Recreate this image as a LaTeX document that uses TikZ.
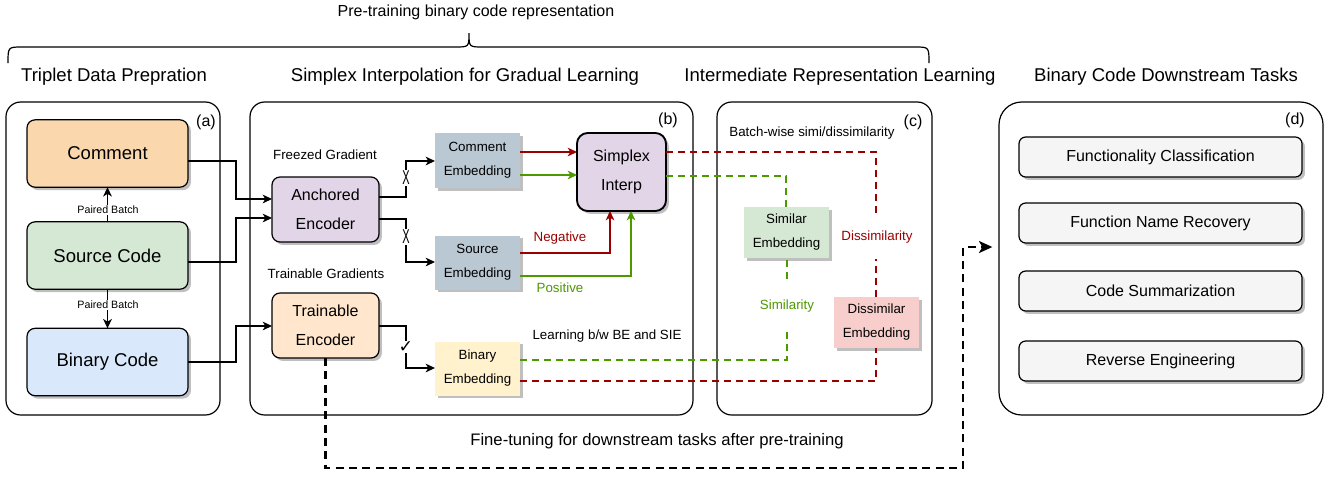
\documentclass[tikz,border=0pt]{standalone}
\usepackage{fontspec}
\setmainfont{Liberation Sans}
\newfontfamily\symfont{DejaVu Sans}
\usetikzlibrary{arrows.meta,shadows,fit,calc}
\definecolor{cOrange}{HTML}{FAD7AC}
\definecolor{cGreen}{HTML}{D5E8D4}
\definecolor{cBlue}{HTML}{DAE8FC}
\definecolor{cPurple}{HTML}{E1D5E7}
\definecolor{cPeach}{HTML}{FFE6CC}
\definecolor{cGray}{HTML}{BAC8D3}
\definecolor{cYellow}{HTML}{FFF2CC}
\definecolor{cPink}{HTML}{F8CECC}
\definecolor{cLight}{HTML}{F5F5F5}
\definecolor{cRed}{HTML}{990000}
\definecolor{cGrn}{HTML}{4D9900}
\begin{document}
\begin{tikzpicture}[x=0.75pt,y=-0.75pt,
  every node/.style={inner sep=0pt, outer sep=0pt},
  shad/.style={drop shadow={shadow xshift=2.2pt, shadow yshift=-2.2pt, fill=black, opacity=0.25}},
  panel/.style={draw, line width=0.9pt, rounded corners=11pt},
  dpanel/.style={draw, line width=0.9pt, rounded corners=17pt},
  bigbox/.style={draw, line width=0.9pt, rounded corners=6pt, shad, minimum width=120.75pt, minimum height=50.5pt, font=\fontsize{13.9}{16}\selectfont},
  encbox/.style={draw, line width=0.9pt, rounded corners=6pt, shad, align=center, minimum width=80.25pt, minimum height=48.75pt, font=\fontsize{12}{21.75}\selectfont},
  embbox/.style={shad, align=center, minimum width=63.75pt, minimum height=40.5pt, font=\fontsize{10}{18}\selectfont},
  taskbox/.style={draw, line width=0.9pt, rounded corners=5pt, fill=cLight, shad, minimum width=212.25pt, minimum height=30pt, font=\fontsize{12}{14}\selectfont},
  titletxt/.style={font=\fontsize{13.9}{16}\selectfont},
  smalltxt/.style={font=\fontsize{10}{12}\selectfont},
  tinytxt/.style={font=\fontsize{8}{10}\selectfont, fill=white, inner sep=1pt},
  plab/.style={font=\fontsize{12}{14}\selectfont},
  arr/.style={line width=0.9pt, -{Stealth[length=7pt,width=6.5pt,inset=2pt]}},
  rdash/.style={line width=1.3pt, cRed, dash pattern=on 5.5pt off 3.5pt},
  gdash/.style={line width=1.3pt, cGrn, dash pattern=on 5.5pt off 3.5pt},
  crossmark/.style={font=\fontsize{15}{16}\selectfont, fill=white, inner xsep=0.5pt, inner ysep=1pt},
  tickmark/.style={font=\symfont\fontsize{13}{14}\selectfont, fill=white, inner sep=0.5pt}
]
\useasboundingbox (0,0) rectangle (1337,476);
\fill[white] (0,0) rectangle (1337,476);

% top text and brace
\node[font=\fontsize{12}{14}\selectfont] (toptxt) at (476,12) {Pre-training binary code representation};
\draw[line width=0.9pt] (8,63) .. controls (8,47) .. (22,47) -- (455,47) .. controls (469,47) .. (469,33)
  .. controls (469,47) .. (483,47) -- (915,47) .. controls (929,47) .. (929,63);

% titles
\node[titletxt] (t1) at (114,77) {Triplet Data Prepration};
\node[titletxt] (t2) at (465,77) {Simplex Interpolation for Gradual Learning};
\node[titletxt] (t3) at (840,77) {Intermediate Representation Learning};
\node[titletxt] (t4) at (1166,77) {Binary Code Downstream Tasks};

% panels
\node[panel, fit={(6,102)(220,415)}] (pa) {};
\node[panel, fit={(250,102)(693,415)}] (pb) {};
\node[panel, fit={(717,102)(932,415)}] (pc) {};
\node[dpanel, fit={(999,102)(1323,415)}] (pd) {};
\node[plab] (la) at (206,122) {(a)};
\node[plab] (lb) at (668,120) {(b)};
\node[plab] (lc) at (913,122) {(c)};
\node[plab] (ld) at (1295,120) {(d)};

% panel a
\node[bigbox, fill=cOrange] (com) at (107.5,153.5) {Comment};
\node[bigbox, fill=cGreen] (src) at (107.5,255.5) {Source Code};
\node[bigbox, fill=cBlue] (bin) at (107.5,362) {Binary Code};
\draw[arr] (src.north) -- (com.south);
\draw[arr] (src.south) -- (bin.north);
\node[tinytxt] (pb1) at (108,210) {Paired Batch};
\node[tinytxt] (pb2) at (108,305) {Paired Batch};

% panel b
\node[smalltxt] (fg) at (325,155) {Freezed Gradient};
\node[smalltxt] (tg) at (326,274) {Trainable Gradients};
\node[encbox, fill=cPurple] (ae) at (325.5,209.5) {Anchored\\Encoder};
\node[encbox, fill=cPeach] (te) at (325.5,325.5) {Trainable\\Encoder};
\node[embbox, fill=cGray, minimum height=41.25pt] (ce) at (477.5,160.5) {Comment\\Embedding};
\node[embbox, fill=cGray] (se) at (477.5,262.5) {Source\\Embedding};
\node[embbox, fill=cYellow] (be) at (477.5,368.5) {Binary\\Embedding};
\node[encbox, fill=cPurple, line width=1.4pt, rounded corners=8pt, minimum width=66.75pt, minimum height=58.5pt] (sx) at (621.5,172) {Simplex\\Interp};

\draw[arr] (com.east |- 0,161) -- (236,161) -- (236,199) -- (ae.west |- 0,199);
\draw[arr] (src.east |- 0,262) -- (236,262) -- (236,218) -- (ae.west |- 0,218);
\draw[arr] (bin.east |- 0,362) -- (236,362) -- (236,326) -- (te.west |- 0,326);

\draw[arr] (ae.east |- 0,197) -- (406,197) -- (406,161) -- (ce.west |- 0,161);
\draw[arr] (ae.east |- 0,219) -- (406,219) -- (406,262) -- (se.west |- 0,262);
\draw[arr] (te.east |- 0,326) -- (406,326) -- (406,368) -- (be.west |- 0,368);
\node[crossmark] (x1) at (406,178) {\scalebox{0.55}[1]{X}};
\node[crossmark] (x2) at (406,237) {\scalebox{0.55}[1]{X}};
\node[tickmark] (ck) at (406,347) {✓};

\draw[arr, cRed] (ce.east |- 0,152) -- (sx.west |- 0,152);
\draw[arr, cGrn] (ce.east |- 0,175) -- (sx.west |- 0,175);
\draw[arr, cRed] (se.east |- 0,253) -- (610,253) -- (sx.south -| 610,0);
\draw[arr, cGrn] (se.east |- 0,276) -- (631,276) -- (sx.south -| 631,0);
\node[smalltxt, text=cRed] (neg) at (560,238) {Negative};
\node[smalltxt, text=cGrn] (pos) at (560,288) {Positive};
\node[smalltxt] (lbw) at (607,336) {Learning b/w BE and SIE};

% panel c
\node[smalltxt] (bw) at (812,133) {Batch-wise simi/dissimilarity};
\node[embbox, fill=cGreen, minimum height=38.25pt] (sim) at (786.5,232.5) {Similar\\Embedding};
\node[embbox, fill=cPink, minimum height=38.25pt] (dis) at (876.5,322.5) {Dissimilar\\Embedding};

\draw[rdash] (sx.east |- 0,152) -- (876,152) -- (dis.north -| 876,0);
\draw[gdash] (sx.east |- 0,176) -- (786,176) -- (sim.north -| 786,0);
\draw[rdash] (be.east |- 0,381) -- (876,381) -- (dis.south -| 876,0);
\draw[gdash] (be.east |- 0,360) -- (787,360) -- (sim.south -| 787,0);
\node[smalltxt, text=cRed, fill=white, inner ysep=12pt, inner xsep=1pt] (dl) at (877,237) {Dissimilarity};
\node[smalltxt, text=cGrn, fill=white, inner ysep=12pt, inner xsep=1pt] (sl) at (787,306) {Similarity};

% panel d
\node[taskbox] (d1) at (1160.5,157) {Functionality Classification};
\node[taskbox] (d2) at (1160.5,223) {Function Name Recovery};
\node[taskbox] (d3) at (1160.5,291) {Code Summarization};
\node[taskbox] (d4) at (1160.5,361) {Reverse Engineering};

% fine-tuning
\draw[line width=1.8pt, dash pattern=on 6pt off 4pt, shorten >=5pt, -{Stealth[length=10pt,width=9pt,inset=2.5pt]}]
  (te.south) -- (te.south |- 0,468) -- (963,468) -- (963,247) -- (pd.west |- 0,247);
\node[font=\fontsize{12.5}{14}\selectfont] (ft) at (657,441) {Fine-tuning for downstream tasks after pre-training};
\end{tikzpicture}
\end{document}
